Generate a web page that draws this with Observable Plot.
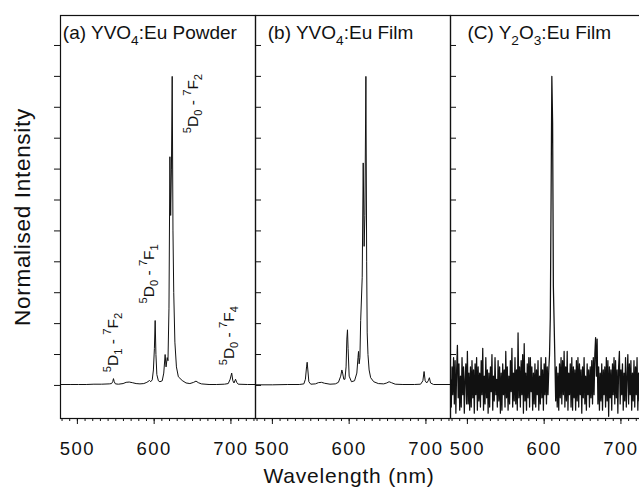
<!DOCTYPE html>
<html><head><meta charset="utf-8">
<script src="https://cdn.jsdelivr.net/npm/d3@7"></script>
<script src="https://cdn.jsdelivr.net/npm/@observablehq/plot@0.6"></script>
<style>
body{margin:0;background:#fff;}
#wrap{width:639px;height:487px;overflow:hidden;position:relative;background:#fff;}
</style></head><body><div id="wrap"></div>
<script>
// ---- data ----
const panels = ["a", "b", "c"];
const panelTitles = ["(a) YVO_4:Eu Powder", "(b) YVO_4:Eu Film", "(C) Y_2O_3:Eu Film"];
const panelTitleX = [481, 494, 500];
const panelTitleY = [1.14, 1.14, 1.14];
const xTitle = "Wavelength (nm)";
const yTitle = "Normalised Intensity";

const powderWl = [478,491.5,501.5,511.5,521.5,531.5,541.5,544.5,546,547,548,549.5,553.5,559.5,563.5,567.5,571.5,576.5,581.5,586.5,590.5,594,595.5,597.5,599,600.3,601.3,602.3,603.5,605.5,607.5,610.5,612.5,614.3,615.5,617,618,619.3,620.5,621.5,622.5,623.5,624.5,625.5,627,629,631.5,636.5,641.5,646.5,651.5,654.5,657.5,661.5,671.5,681.5,691.5,696.5,699,701,702.5,704,706,707.5,709.5,721.5,732];
const powderI = [0.003,0.003,0.003,0.003,0.004,0.004,0.005,0.006,0.012,0.022,0.012,0.005,0.004,0.006,0.01,0.011,0.009,0.006,0.005,0.006,0.01,0.016,0.012,0.018,0.05,0.12,0.21,0.10,0.035,0.015,0.012,0.015,0.04,0.10,0.06,0.09,0.08,0.25,0.74,0.55,0.7,1.0,0.5,0.3,0.14,0.06,0.028,0.016,0.008,0.006,0.01,0.014,0.009,0.005,0.003,0.003,0.004,0.006,0.02,0.04,0.015,0.008,0.02,0.01,0.004,0.003,0.003];

const filmWl = [478,500,520,535,541,543,544.5,545.3,546.2,547.5,550,556,560,564,568,575,582,586,589,590.5,591.5,593,594.5,596,597,597.8,598.6,600,603,607,610,611.5,612.2,613,614,615,617,618.3,619.5,620.5,621.8,622.8,623.5,624.5,626,628,632,638,645,649,652,655,660,670,685,693,696,697.6,699,701,703,704.5,706,710,732];
const filmI = [0.002,0.002,0.003,0.003,0.005,0.02,0.06,0.075,0.05,0.012,0.004,0.005,0.009,0.01,0.007,0.004,0.005,0.01,0.03,0.05,0.04,0.02,0.02,0.06,0.15,0.18,0.12,0.03,0.012,0.015,0.04,0.09,0.11,0.07,0.09,0.21,0.35,0.72,0.45,0.55,1.0,0.40,0.17,0.10,0.05,0.025,0.012,0.006,0.005,0.008,0.012,0.009,0.004,0.003,0.003,0.004,0.015,0.045,0.015,0.008,0.015,0.025,0.008,0.003,0.003];

// Y2O3:Eu film, sampled every 1 nm from 478 nm
const y2o3Start = 478;
const y2o3Step = 1;
const y2o3I = [
0.02,-0.07,0.06,-0.03,0.09,-0.06,0.08,-0.09,0.05,0.13,
-0.04,0.07,-0.08,0.03,-0.07,0.09,-0.03,0.06,-0.09,0.02,
0.07,-0.06,0.11,-0.06,0.04,-0.08,0.06,-0.07,0.08,-0.04,
0.05,-0.09,0.07,-0.03,0.09,-0.08,0.06,-0.05,0.04,-0.07,
0.08,-0.03,0.12,-0.08,0.03,-0.06,0.09,-0.04,0.05,-0.09,
0.04,-0.07,0.06,-0.02,0.10,-0.08,0.03,-0.05,0.09,-0.03,
0.02,-0.07,0.08,-0.05,0.06,-0.09,0.04,-0.08,0.07,-0.03,
0.05,-0.07,0.11,-0.04,0.06,-0.08,0.03,-0.06,0.08,-0.02,
0.12,-0.07,0.04,-0.05,0.09,-0.06,0.05,-0.08,0.17,-0.04,
0.06,-0.07,0.08,-0.03,0.10,-0.09,0.135,-0.05,0.04,-0.08,
0.07,-0.04,0.09,-0.07,0.09,-0.02,0.06,-0.08,0.04,-0.06,
0.07,-0.07,0.05,-0.03,0.08,-0.08,0.03,-0.06,0.09,-0.04,
0.05,-0.08,0.07,-0.03,0.09,-0.06,0.06,-0.03,0.05,0.10,
0.22,0.6,1.0,0.85,0.32,0.2,0.08,-0.05,0.06,-0.07,
0.04,-0.08,0.07,-0.04,0.09,-0.06,0.08,-0.03,0.11,-0.07,
0.06,-0.05,0.11,-0.08,0.04,-0.03,0.07,-0.07,0.09,-0.08,
0.06,-0.04,0.05,-0.08,0.08,-0.05,0.09,-0.07,0.07,-0.03,
0.05,-0.09,0.06,-0.04,0.09,-0.06,0.03,-0.08,0.07,-0.03,
0.05,-0.07,0.06,-0.04,0.08,-0.06,0.09,-0.03,0.10,0.155,
0.03,0.15,-0.06,0.06,-0.08,0.04,-0.05,0.07,-0.08,0.05,
-0.03,0.06,-0.07,0.09,-0.05,0.08,-0.10,0.06,-0.04,0.05,
-0.08,0.07,-0.03,0.09,-0.06,0.08,-0.04,0.05,-0.09,0.06,
0.11,-0.06,0.05,-0.03,0.07,-0.08,0.04,-0.05,0.09,-0.07,
0.03,0.10,-0.06,0.07,-0.03,0.08,-0.08,0.04,-0.05,0.08,
-0.07,0.06,-0.03,0.09,-0.08,0.04,-0.05,0.07,-0.06,0.05,
-0.08,0.06,-0.03,0.08,-0.06
];

const annotText = ["^5D_1 - ^7F_2", "^5D_0 - ^7F_1", "^5D_0 - ^7F_2", "^5D_0 - ^7F_4"];
const annotX = [546, 593, 650, 697];
const annotY = [0.043, 0.265, 0.816, 0.065];

const xTicksMajor = [500, 600, 700];
const xTicksMinor = [480,490,500,510,520,530,540,550,560,570,580,590,600,610,620,630,640,650,660,670,680,690,700,710,720,730];
const yTicks = [0,0.1,0.2,0.3,0.4,0.5,0.6,0.7,0.8,0.9,1.0,1.1];

// ---- tables ----
const rowsAB = [];
powderWl.forEach((w, i) => rowsAB.push({panel: "a", wl: w, v: powderI[i]}));
filmWl.forEach((w, i) => rowsAB.push({panel: "b", wl: w, v: filmI[i]}));
const rowsC = y2o3I.map((v, i) => ({panel: "c", wl: y2o3Start + i * y2o3Step, v}));

const titleRows = panels.map((p, i) => ({panel: p, text: panelTitles[i], x: panelTitleX[i], y: panelTitleY[i]}));
const annotRows = annotText.map((t, i) => ({panel: "a", text: t, x: annotX[i], y: annotY[i]}));
const innerTickRows = ["b", "c"].flatMap(p => yTicks.map(v => ({panel: p, v})));

// ---- layout ----
const W = 645, H = 487, ML = 60, MT = 15, MB = 69;
const panelW = (W - ML) / 3;
const ink = "#111";

const chart = Plot.plot({
  width: W, height: H,
  marginLeft: ML, marginRight: 0, marginTop: MT, marginBottom: MB,
  style: `font-family: 'Liberation Sans', Arial, sans-serif; color: ${ink}; background: white; max-width: none; overflow: visible;`,
  fx: {domain: panels, padding: 0, axis: null, label: null},
  x: {domain: [478, 732], label: null},
  y: {domain: [-0.107, 1.197], label: null},
  marks: [
    Plot.line(rowsAB, {x: "wl", y: "v", fx: "panel", stroke: ink, strokeWidth: 1, clip: true}),
    Plot.line(rowsC, {x: "wl", y: "v", fx: "panel", stroke: ink, strokeWidth: 1.25, clip: true}),
    Plot.frame({stroke: ink, strokeWidth: 1.2}),
    Plot.axisX({ticks: xTicksMinor, tickSize: 3, tickFormat: () => "", label: null, stroke: ink}),
    Plot.axisX({ticks: xTicksMajor, tickSize: 6, tickPadding: 17, fontSize: 18.5, stroke: ink, label: null}),
    Plot.axisY({ticks: yTicks, tickSize: 6, tickFormat: () => "", stroke: ink,
      label: yTitle, labelAnchor: "center", labelArrow: "none", labelOffset: 46}),
    Plot.tickY(innerTickRows, {y: "v", fx: "panel", stroke: ink, insetRight: panelW - 6}),
    Plot.text([xTitle], {facet: "super", frameAnchor: "bottom", lineAnchor: "bottom", dy: 64, dx: -4, fontSize: 21, fill: ink, text: d => d}),
    Plot.text(titleRows, {x: "x", y: "y", fx: "panel", text: "text", textAnchor: "start", lineAnchor: "middle", fontSize: 19, fill: ink}),
    Plot.text(annotRows, {x: "x", y: "y", fx: "panel", text: "text", rotate: -90, textAnchor: "start", lineAnchor: "middle", fontSize: 15.5, fill: ink})
  ]
});

document.getElementById("wrap").appendChild(chart);

// ---- typographic post-processing: letter spacing, sub/superscripts ----
d3.select(chart).selectAll("text").each(function () {
  const el = this;
  const s = el.textContent.trim();
  if (s === xTitle) { el.style.letterSpacing = "0.8px"; return; }
  if (s === yTitle) { el.style.fontSize = "22.5px"; el.style.letterSpacing = "0.7px"; return; }
  if (/^\d00$/.test(s)) { el.style.letterSpacing = "1.5px"; return; }
  if (!/[_^]/.test(s)) return;
  const fs = parseFloat(getComputedStyle(el).fontSize) || 16;
  const small = fs * 0.72;
  const up = fs * 0.42, down = fs * 0.3;
  while (el.firstChild) el.removeChild(el.firstChild);
  let shift = 0;
  let buf = "";
  const flush = () => {
    if (!buf) return;
    const t = document.createElementNS("http://www.w3.org/2000/svg", "tspan");
    t.textContent = buf;
    if (shift !== 0) { t.setAttribute("dy", -shift); shift = 0; }
    el.appendChild(t);
    buf = "";
  };
  for (let i = 0; i < s.length; i++) {
    const c = s[i];
    if ((c === "_" || c === "^") && i + 1 < s.length) {
      flush();
      const t = document.createElementNS("http://www.w3.org/2000/svg", "tspan");
      t.textContent = s[i + 1];
      t.setAttribute("font-size", small);
      const d = c === "_" ? down : -up;
      t.setAttribute("dy", d - shift);
      shift = d;
      el.appendChild(t);
      i++;
    } else {
      buf += c;
    }
  }
  flush();
});
</script>
</body></html>
